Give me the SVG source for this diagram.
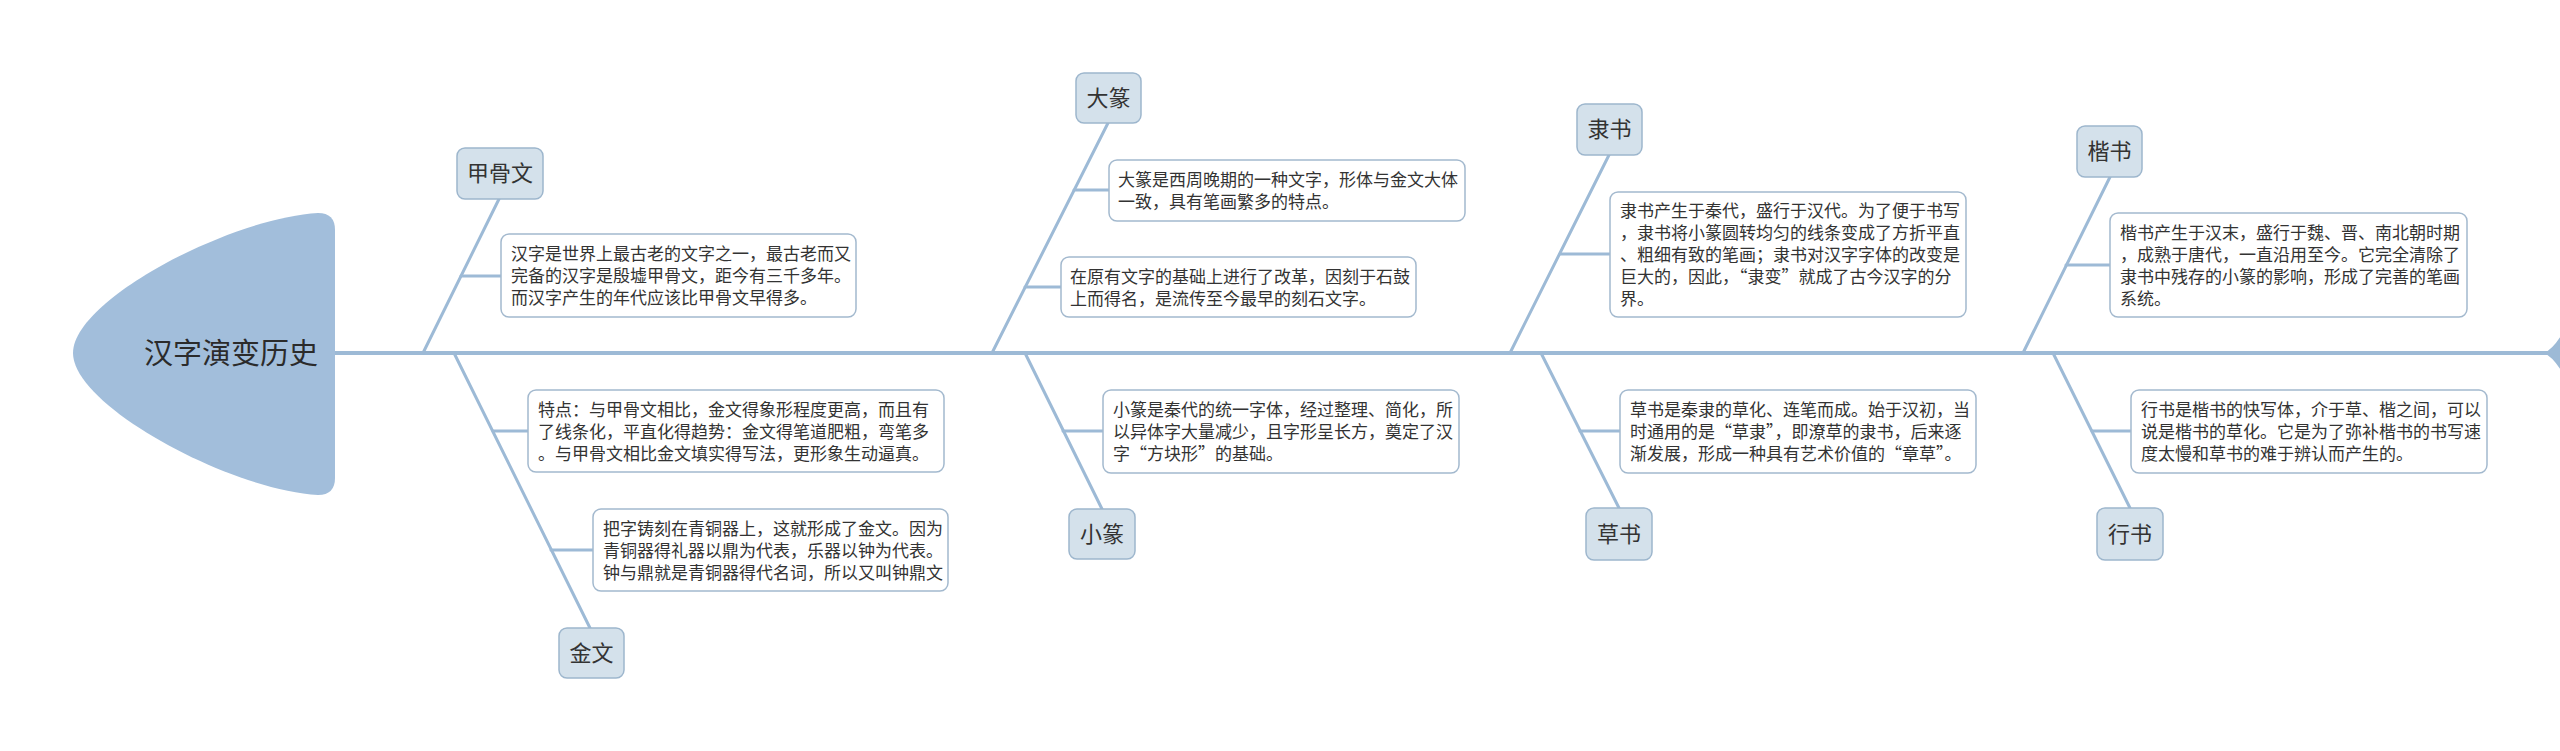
<svg xmlns="http://www.w3.org/2000/svg" width="2560" height="751" viewBox="0 0 2560 751">
<style>
.ln{stroke:#9dbad6;stroke-width:3;fill:none;stroke-linecap:round}
.sp{stroke:#9dbad6;stroke-width:4;fill:none}
.nd{fill:#d4e1eb;stroke:#9db6cd;stroke-width:1.5}
.ds{fill:#ffffff;stroke:#a3b9ce;stroke-width:1.5}
.tt{font-family:"Noto Sans CJK SC","Microsoft YaHei",sans-serif;font-size:22px;fill:#333;text-anchor:middle}
.dt{font-family:"Noto Sans CJK SC","Microsoft YaHei",sans-serif;font-size:17px;fill:#333}
.hd{font-family:"Noto Sans CJK SC","Microsoft YaHei",sans-serif;font-size:29px;fill:#2b2b2b;text-anchor:middle}
</style>
<rect width="2560" height="751" fill="#ffffff"/>
<g id="connectors">
<line class="sp" x1="330" y1="353" x2="2550" y2="353"/>
<path d="M2544,353 Q2553,349 2562,334 L2562,372 Q2553,357 2544,353 Z" fill="#9dbad6"/>
<line class="ln" x1="423" y1="353" x2="499" y2="199"/>
<line class="ln" x1="461" y1="276" x2="501" y2="276"/>
<line class="ln" x1="454" y1="353" x2="590" y2="628"/>
<line class="ln" x1="493" y1="431" x2="528" y2="431"/>
<line class="ln" x1="551" y1="550" x2="593" y2="550"/>
<line class="ln" x1="992" y1="353" x2="1108" y2="123"/>
<line class="ln" x1="1074" y1="190" x2="1109" y2="190"/>
<line class="ln" x1="1025" y1="287" x2="1061" y2="287"/>
<line class="ln" x1="1025" y1="353" x2="1102" y2="509"/>
<line class="ln" x1="1063" y1="431" x2="1103" y2="431"/>
<line class="ln" x1="1510" y1="353" x2="1609" y2="155"/>
<line class="ln" x1="1560" y1="254" x2="1610" y2="254"/>
<line class="ln" x1="1541" y1="353" x2="1619" y2="508"/>
<line class="ln" x1="1580" y1="431" x2="1620" y2="431"/>
<line class="ln" x1="2023" y1="353" x2="2110" y2="177"/>
<line class="ln" x1="2066" y1="265" x2="2110" y2="265"/>
<line class="ln" x1="2053" y1="353" x2="2130" y2="508"/>
<line class="ln" x1="2092" y1="431" x2="2131" y2="431"/>
</g>
<g id="head">
<path d="M318,213 Q335,213 335,230 L335,478 Q335,495 318,495 C230,490 73,406 73,353 C73,300 230,218 318,213 Z" fill="#a2bedb"/>
<text class="hd" x="231" y="364">汉字演变历史</text>
</g>
<g id="n-jiaguwen">
<rect class="nd" x="457" y="148" width="86" height="51" rx="8"/>
<text class="tt" x="500" y="181">甲骨文</text>
</g>
<g id="d-jiaguwen">
<rect class="ds" x="501" y="234" width="355" height="83" rx="8"/>
<text class="dt" x="511" y="260">汉字是世界上最古老的文字之一，最古老而又</text>
<text class="dt" x="511" y="282">完备的汉字是殷墟甲骨文，距今有三千多年。</text>
<text class="dt" x="511" y="304">而汉字产生的年代应该比甲骨文早得多。</text>
</g>
<g id="n-jinwen">
<rect class="nd" x="559" y="628" width="65" height="50" rx="8"/>
<text class="tt" x="591.5" y="661">金文</text>
</g>
<g id="d-jinwen-1">
<rect class="ds" x="528" y="390" width="416" height="82" rx="8"/>
<text class="dt" x="538" y="416">特点：与甲骨文相比，金文得象形程度更高，而且有</text>
<text class="dt" x="538" y="438">了线条化，平直化得趋势：金文得笔道肥粗，弯笔多</text>
<text class="dt" x="538" y="460">。与甲骨文相比金文填实得写法，更形象生动逼真。</text>
</g>
<g id="d-jinwen-2">
<rect class="ds" x="593" y="509" width="355" height="82" rx="8"/>
<text class="dt" x="603" y="535">把字铸刻在青铜器上，这就形成了金文。因为</text>
<text class="dt" x="603" y="557">青铜器得礼器以鼎为代表，乐器以钟为代表。</text>
<text class="dt" x="603" y="579">钟与鼎就是青铜器得代名词，所以又叫钟鼎文</text>
</g>
<g id="n-dazhuan">
<rect class="nd" x="1076" y="73" width="65" height="50" rx="8"/>
<text class="tt" x="1108.5" y="106">大篆</text>
</g>
<g id="d-dazhuan-1">
<rect class="ds" x="1109" y="160" width="356" height="61" rx="8"/>
<text class="dt" x="1118" y="186">大篆是西周晚期的一种文字，形体与金文大体</text>
<text class="dt" x="1118" y="208">一致，具有笔画繁多的特点。</text>
</g>
<g id="d-dazhuan-2">
<rect class="ds" x="1061" y="257" width="355" height="60" rx="8"/>
<text class="dt" x="1070" y="283">在原有文字的基础上进行了改革，因刻于石鼓</text>
<text class="dt" x="1070" y="305">上而得名，是流传至今最早的刻石文字。</text>
</g>
<g id="n-xiaozhuan">
<rect class="nd" x="1069" y="509" width="66" height="50" rx="8"/>
<text class="tt" x="1102" y="542">小篆</text>
</g>
<g id="d-xiaozhuan">
<rect class="ds" x="1103" y="390" width="356" height="83" rx="8"/>
<text class="dt" x="1113" y="416">小篆是秦代的统一字体，经过整理、简化，所</text>
<text class="dt" x="1113" y="438">以异体字大量减少，且字形呈长方，奠定了汉</text>
<text class="dt" x="1113" y="460">字“方块形”的基础。</text>
</g>
<g id="n-lishu">
<rect class="nd" x="1577" y="104" width="65" height="51" rx="8"/>
<text class="tt" x="1609.5" y="137">隶书</text>
</g>
<g id="d-lishu">
<rect class="ds" x="1610" y="192" width="356" height="125" rx="8"/>
<text class="dt" x="1620" y="217">隶书产生于秦代，盛行于汉代。为了便于书写</text>
<text class="dt" x="1620" y="239">，隶书将小篆圆转均匀的线条变成了方折平直</text>
<text class="dt" x="1620" y="261">、粗细有致的笔画；隶书对汉字字体的改变是</text>
<text class="dt" x="1620" y="283">巨大的，因此，“隶变”就成了古今汉字的分</text>
<text class="dt" x="1620" y="305">界。</text>
</g>
<g id="n-caoshu">
<rect class="nd" x="1586" y="508" width="66" height="52" rx="8"/>
<text class="tt" x="1619" y="542">草书</text>
</g>
<g id="d-caoshu">
<rect class="ds" x="1620" y="390" width="356" height="83" rx="8"/>
<text class="dt" x="1630" y="416">草书是秦隶的草化、连笔而成。始于汉初，当</text>
<text class="dt" x="1630" y="438">时通用的是“草隶”，即潦草的隶书，后来逐</text>
<text class="dt" x="1630" y="460">渐发展，形成一种具有艺术价值的“章草”。</text>
</g>
<g id="n-kaishu">
<rect class="nd" x="2077" y="126" width="65" height="51" rx="8"/>
<text class="tt" x="2109.5" y="159">楷书</text>
</g>
<g id="d-kaishu">
<rect class="ds" x="2110" y="213" width="357" height="104" rx="8"/>
<text class="dt" x="2120" y="239">楷书产生于汉末，盛行于魏、晋、南北朝时期</text>
<text class="dt" x="2120" y="261">，成熟于唐代，一直沿用至今。它完全清除了</text>
<text class="dt" x="2120" y="283">隶书中残存的小篆的影响，形成了完善的笔画</text>
<text class="dt" x="2120" y="305">系统。</text>
</g>
<g id="n-xingshu">
<rect class="nd" x="2097" y="508" width="66" height="52" rx="8"/>
<text class="tt" x="2130" y="542">行书</text>
</g>
<g id="d-xingshu">
<rect class="ds" x="2131" y="390" width="356" height="83" rx="8"/>
<text class="dt" x="2141" y="416">行书是楷书的快写体，介于草、楷之间，可以</text>
<text class="dt" x="2141" y="438">说是楷书的草化。它是为了弥补楷书的书写速</text>
<text class="dt" x="2141" y="460">度太慢和草书的难于辨认而产生的。</text>
</g>
</svg>
